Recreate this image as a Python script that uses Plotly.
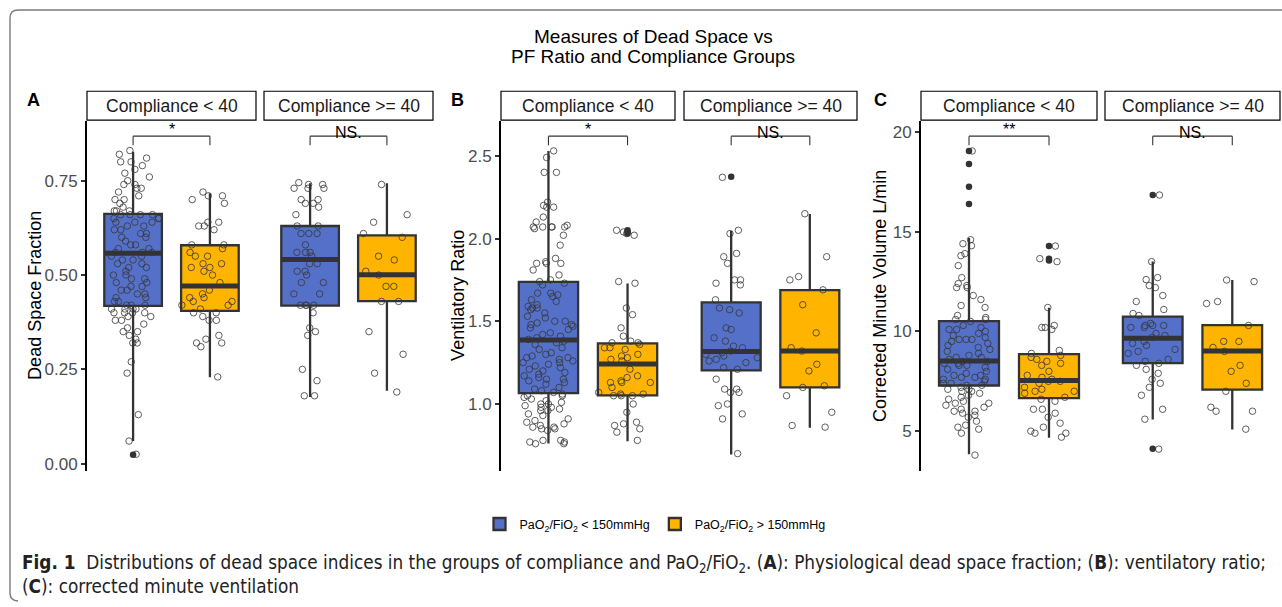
import plotly.graph_objects as go

W, H = 1282, 607

# ---------------- data ----------------
panel_letters = ["A", "B", "C"]
facet_labels = ["Compliance < 40", "Compliance >= 40"]
group_names = ["PaO<sub>2</sub>/FiO<sub>2</sub> < 150mmHg", "PaO<sub>2</sub>/FiO<sub>2</sub> > 150mmHg"]
y_titles = ["Dead Space Fraction", "Ventilatory Ratio", "Corrected Minute Volume L/min"]
y_tickvals = [[0.0, 0.25, 0.5, 0.75], [1.0, 1.5, 2.0, 2.5], [5, 10, 15, 20]]
y_ticktext = [["0.00", "0.25", "0.50", "0.75"], ["1.0", "1.5", "2.0", "2.5"], ["5", "10", "15", "20"]]
sig_labels = [["*", "NS."], ["*", "NS."], ["**", "NS."]]
title_lines = ["Measures of Dead Space vs", "PF Ratio and Compliance Groups"]

# box stats: (lower whisker, q1, median, q3, upper whisker)
dsf_box = [[(0.060, 0.418, 0.558, 0.662, 0.827), (0.229, 0.405, 0.471, 0.579, 0.717)],
           [(0.177, 0.419, 0.541, 0.630, 0.743), (0.193, 0.431, 0.501, 0.605, 0.743)]]
vr_box = [[(0.761, 1.066, 1.387, 1.738, 2.530), (0.775, 1.052, 1.241, 1.367, 1.728)],
          [(0.695, 1.203, 1.317, 1.614, 2.045), (0.856, 1.100, 1.321, 1.688, 2.149)]]
cmv_box = [[(3.84, 7.29, 8.52, 10.52, 14.68), (4.67, 6.66, 7.54, 8.86, 11.19)],
           [(5.58, 8.41, 9.66, 10.74, 13.51), (5.08, 7.08, 9.02, 10.32, 12.58)]]

# outliers (filled dots)
dsf_out = [[[0.024], []], [[], []]]
vr_out = [[[], [2.05, 2.04, 2.03]], [[2.374], []]]
cmv_out = [[[19.05, 18.39, 17.26, 16.39], [14.28, 13.65, 13.56]], [[16.84, 4.12], []]]

# individual observations (jittered open circles)
dsf_c1_low = [0.83, 0.82, 0.81, 0.80, 0.80, 0.79, 0.78, 0.77, 0.76, 0.75, 0.74, 0.74, 0.73, 0.73, 0.72,
              0.71, 0.70, 0.70, 0.69, 0.68, 0.67, 0.67, 0.67, 0.66, 0.66, 0.66, 0.66, 0.65, 0.65, 0.65,
              0.64, 0.64, 0.64, 0.63, 0.63, 0.62, 0.62, 0.61, 0.61, 0.60, 0.60, 0.59, 0.58, 0.58, 0.57,
              0.57, 0.56, 0.56, 0.56, 0.55, 0.55, 0.54, 0.54, 0.53, 0.53, 0.52, 0.52, 0.51, 0.50, 0.50,
              0.49, 0.49, 0.48, 0.48, 0.47, 0.47, 0.46, 0.46, 0.45, 0.45, 0.44, 0.44, 0.43, 0.43, 0.42,
              0.42, 0.42, 0.41, 0.41, 0.41, 0.41, 0.40, 0.40, 0.40, 0.40, 0.39, 0.39, 0.38, 0.38, 0.37,
              0.36, 0.35, 0.35, 0.34, 0.33, 0.32, 0.32, 0.27, 0.24, 0.13, 0.06, 0.025]
dsf_c1_high = [0.72, 0.71, 0.71, 0.70, 0.69, 0.64, 0.64, 0.63, 0.63, 0.62, 0.58, 0.58, 0.57, 0.56, 0.55,
               0.55, 0.53, 0.53, 0.52, 0.52, 0.51, 0.50, 0.48, 0.46, 0.45, 0.44, 0.44, 0.43, 0.43, 0.42,
               0.42, 0.41, 0.40, 0.40, 0.39, 0.38, 0.38, 0.34, 0.33, 0.32, 0.32, 0.31, 0.23]
dsf_c2_low = [0.745, 0.74, 0.74, 0.73, 0.73, 0.73, 0.70, 0.70, 0.69, 0.69, 0.68, 0.66, 0.63, 0.63, 0.61,
              0.61, 0.61, 0.58, 0.56, 0.56, 0.56, 0.55, 0.53, 0.53, 0.51, 0.51, 0.50, 0.48, 0.48, 0.45,
              0.45, 0.42, 0.42, 0.42, 0.42, 0.40, 0.36, 0.35, 0.34, 0.25, 0.22, 0.18, 0.18]
dsf_c2_high = [0.74, 0.66, 0.64, 0.61, 0.60, 0.55, 0.54, 0.51, 0.50, 0.47, 0.47, 0.43, 0.43, 0.35, 0.29,
               0.24, 0.19]

vr_c1_low = [2.53, 2.49, 2.40, 2.40, 2.22, 2.20, 2.19, 2.19, 2.13, 2.10, 2.08, 2.07, 2.07, 2.07, 2.07,
             2.07, 2.06, 2.02, 1.96, 1.88, 1.86, 1.85, 1.85, 1.85, 1.81, 1.78, 1.75, 1.74, 1.73, 1.72,
             1.67, 1.67, 1.66, 1.65, 1.63, 1.62, 1.60, 1.59, 1.58, 1.58, 1.57, 1.55, 1.53, 1.52, 1.50,
             1.50, 1.49, 1.48, 1.48, 1.47, 1.46, 1.45, 1.43, 1.42, 1.41, 1.40, 1.39, 1.38, 1.37, 1.36,
             1.34, 1.33, 1.31, 1.30, 1.29, 1.28, 1.28, 1.27, 1.26, 1.25, 1.25, 1.24, 1.23, 1.22, 1.21,
             1.20, 1.19, 1.18, 1.17, 1.16, 1.15, 1.15, 1.14, 1.13, 1.12, 1.10, 1.09, 1.08, 1.07, 1.06,
             1.05, 1.05, 1.04, 1.03, 1.02, 1.01, 1.00, 1.00, 0.99, 0.98, 0.98, 0.97, 0.96, 0.96, 0.94,
             0.93, 0.91, 0.90, 0.89, 0.88, 0.87, 0.86, 0.86, 0.85, 0.85, 0.84, 0.78, 0.78, 0.77, 0.77,
             0.76, 0.76]
vr_c1_high = [2.05, 2.04, 2.03, 2.02, 1.74, 1.73, 1.58, 1.54, 1.46, 1.41, 1.38, 1.37, 1.37, 1.36, 1.34,
              1.34, 1.33, 1.30, 1.29, 1.28, 1.27, 1.26, 1.21, 1.17, 1.16, 1.14, 1.13, 1.13, 1.13, 1.10,
              1.07, 1.06, 1.06, 1.05, 1.05, 1.05, 1.00, 0.95, 0.89, 0.88, 0.87, 0.85, 0.83, 0.78]
vr_c2_low = [2.37, 2.05, 2.03, 1.91, 1.89, 1.85, 1.75, 1.73, 1.72, 1.75, 1.63, 1.58, 1.57, 1.55, 1.46,
             1.45, 1.40, 1.38, 1.35, 1.34, 1.32, 1.31, 1.30, 1.29, 1.28, 1.27, 1.26, 1.25, 1.22, 1.21,
             1.15, 1.09, 1.09, 1.07, 1.07, 1.00, 0.99, 0.94, 0.91, 0.70]
vr_c2_high = [2.15, 1.89, 1.77, 1.75, 1.69, 1.60, 1.43, 1.34, 1.32, 1.24, 1.20, 1.11, 1.10, 1.05, 0.95,
              0.87, 0.86]

cmv_c1_low = [19.05, 14.6, 14.4, 14.3, 13.9, 13.8, 13.3, 12.7, 12.4, 12.3, 12.2, 12.2, 11.8, 11.6, 11.3,
              11.2, 10.8, 10.7, 10.6, 10.6, 10.5, 10.3, 10.2, 10.1, 10.1, 10.0, 9.9, 9.8, 9.7, 9.6,
              9.6, 9.6, 9.5, 9.4, 9.3, 9.2, 9.1, 9.0, 8.9, 8.8, 8.7, 8.7, 8.6, 8.5, 8.5,
              8.4, 8.4, 8.3, 8.3, 8.2, 8.1, 8.0, 7.9, 7.8, 7.8, 7.7, 7.7, 7.6, 7.6, 7.5,
              7.4, 7.4, 7.3, 7.3, 7.2, 7.1, 7.1, 7.0, 7.0, 6.9, 6.8, 6.7, 6.6, 6.5, 6.4,
              6.4, 6.3, 6.2, 6.1, 6.0, 6.0, 5.9, 5.8, 5.7, 5.5, 5.3, 5.2, 5.1, 4.9, 3.8]
cmv_c1_high = [14.28, 13.65, 13.5, 11.2, 10.3, 10.2, 10.2, 10.1, 9.05, 8.9, 8.8, 8.7, 8.6, 8.5, 8.4,
               8.3, 8.0, 7.8, 7.7, 7.6, 7.5, 7.5, 7.4, 7.2, 7.1, 7.0, 7.0, 6.9, 6.7, 6.6,
               6.5, 6.1, 6.1, 5.9, 5.7, 5.4, 5.2, 5.0, 4.9, 4.9, 4.7]
cmv_c2_low = [16.84, 13.5, 12.7, 12.6, 12.3, 12.2, 11.8, 11.5, 11.1, 10.9, 10.8, 10.4, 10.3, 10.3, 10.3,
              10.2, 10.2, 9.9, 9.8, 9.7, 9.5, 9.4, 9.3, 9.1, 9.0, 8.9, 8.6, 8.5, 8.4, 8.3,
              8.1, 7.9, 7.6, 7.4, 7.2, 6.8, 6.1, 5.6, 4.1]
cmv_c2_high = [12.58, 12.5, 11.5, 11.4, 10.3, 9.5, 9.5, 9.2, 9.0, 8.3, 8.0, 7.4, 7.0, 6.2, 6.0,
               6.0, 5.1]

box_stats = [dsf_box, vr_box, cmv_box]
outliers = [dsf_out, vr_out, cmv_out]
points = [[[dsf_c1_low, dsf_c1_high], [dsf_c2_low, dsf_c2_high]],
          [[vr_c1_low, vr_c1_high], [vr_c2_low, vr_c2_high]],
          [[cmv_c1_low, cmv_c1_high], [cmv_c2_low, cmv_c2_high]]]

# ---------------- style / layout ----------------
FONT = "Liberation Sans, Arial, Helvetica, sans-serif"
CAP_FONT = "Liberation Sans Narrow, DejaVu Sans Condensed, Arial Narrow, Liberation Sans, sans-serif"
fills = ["#5470C8", "#FFB400"]
DARK = "#333333"
BOX_W = 0.75

def px(x):
    return x / W

def py(y):
    return 1 - y / H

panel_top, panel_bot = 121.7, 473.0
y_dom = [py(panel_bot), py(panel_top)]
facet_px = [[(87, 256), (264, 433)], [(501, 675), (684, 857)], [(921, 1097), (1105, 1280)]]
y_ranges = [[-0.0185, 0.908], [0.597, 2.710], [3.02, 20.547]]
letter_x = [33, 457, 880]
ytitle_x = [35, 458, 880]

fig = go.Figure()
layout = {}
shapes = []
annotations = []

for p in range(3):
    for f in range(2):
        k = p * 2 + f + 1
        xa = "x" if k == 1 else f"x{k}"
        ya = "y" if k == 1 else f"y{k}"
        xname = "xaxis" if k == 1 else f"xaxis{k}"
        yname = "yaxis" if k == 1 else f"yaxis{k}"
        x0p, x1p = facet_px[p][f]
        layout[xname] = dict(domain=[px(x0p), px(x1p)], range=[0.4, 2.6], visible=False,
                             anchor=ya, fixedrange=True)
        ydict = dict(domain=y_dom, range=y_ranges[p], anchor=xa, showgrid=False, zeroline=False,
                     fixedrange=True)
        if f == 0:
            ydict.update(showline=True, linecolor="black", linewidth=2, ticks="outside", ticklen=4,
                         tickwidth=1.5, tickcolor=DARK, tickvals=y_tickvals[p], ticktext=y_ticktext[p],
                         tickfont=dict(family=FONT, size=17, color="#4D4D4D"))
        else:
            ydict.update(showline=False, showticklabels=False, ticks="")
        layout[yname] = ydict

        for g in range(2):
            lo, q1, med, q3, hi = box_stats[p][f][g]
            pos = g + 1
            fig.add_trace(go.Box(
                x=[pos], q1=[q1], median=[med], q3=[q3], lowerfence=[lo], upperfence=[hi],
                width=BOX_W, whiskerwidth=0, boxpoints=False, fillcolor=fills[g],
                line=dict(color=DARK, width=2.3), name=group_names[g], legendgroup=f"g{g}",
                showlegend=(p == 0 and f == 0), xaxis=xa, yaxis=ya, hoverinfo="skip"))
            # thick median bar
            fig.add_trace(go.Box(
                x=[pos], q1=[med], median=[med], q3=[med], lowerfence=[med], upperfence=[med],
                width=BOX_W, whiskerwidth=0, boxpoints=False, fillcolor=DARK,
                line=dict(color=DARK, width=5), showlegend=False, xaxis=xa, yaxis=ya,
                hoverinfo="skip"))
        for g in range(2):
            pos = g + 1
            vals = points[p][f][g]
            fig.add_trace(go.Box(
                x=[pos] * len(vals), y=vals, width=BOX_W, boxpoints="all", jitter=1.0, pointpos=0,
                fillcolor="rgba(0,0,0,0)", line=dict(color="rgba(0,0,0,0)", width=0),
                marker=dict(symbol="circle-open", size=6.5, color="rgba(55,55,55,0.8)",
                            line=dict(width=1)),
                showlegend=False, xaxis=xa, yaxis=ya, hoveron="points"))
            if outliers[p][f][g]:
                fig.add_trace(go.Scatter(
                    x=[pos] * len(outliers[p][f][g]), y=outliers[p][f][g], mode="markers",
                    marker=dict(color=DARK, size=6.5), showlegend=False, xaxis=xa, yaxis=ya))

        # strip
        shapes.append(dict(type="rect", xref=f"{xa} domain", yref="paper", x0=0, x1=1,
                           y0=py(120.7), y1=py(91.7), line=dict(color="black", width=1.2),
                           fillcolor="white", layer="above"))
        annotations.append(dict(text=facet_labels[f], xref=f"{xa} domain", yref="paper", x=0.5,
                                y=py(106.5), showarrow=False, xanchor="center", yanchor="middle",
                                font=dict(family=FONT, size=17.5, color="#1A1A1A")))
        # significance bracket
        yb0, yb1 = 0.931, 0.957
        for (xs0, ys0, xs1, ys1) in [(1, yb0, 1, yb1), (1, yb1, 2, yb1), (2, yb1, 2, yb0)]:
            shapes.append(dict(type="line", xref=xa, yref=f"{ya} domain", x0=xs0, y0=ys0, x1=xs1,
                               y1=ys1, line=dict(color=DARK, width=1.1)))
        lab = sig_labels[p][f]
        annotations.append(dict(text=lab, xref=xa, yref=f"{ya} domain", x=1.5,
                                y=0.976 if "*" in lab else 0.966, showarrow=False,
                                xanchor="center", yanchor="middle",
                                font=dict(family=FONT, size=16, color="black")))

    annotations.append(dict(text=f"<b>{panel_letters[p]}</b>", xref="paper", yref="paper",
                            x=px(letter_x[p]), y=py(100), showarrow=False, xanchor="center",
                            yanchor="middle", font=dict(family=FONT, size=18, color="black")))
    annotations.append(dict(text=y_titles[p], xref="paper", yref="paper", x=px(ytitle_x[p]),
                            y=py((panel_top + panel_bot) / 2), showarrow=False, textangle=-90,
                            xanchor="center", yanchor="middle",
                            font=dict(family=FONT, size=18, color="black")))

# title (two lines)
for i, line in enumerate(title_lines):
    annotations.append(dict(text=line, xref="paper", yref="paper", x=px(653), y=py(37 + 20 * i),
                            showarrow=False, xanchor="center", yanchor="middle",
                            font=dict(family=FONT, size=19, color="black")))
# caption
annotations.append(dict(
    text="<b>Fig. 1</b>  Distributions of dead space indices in the groups of compliance and "
         "PaO<sub>2</sub>/FiO<sub>2</sub>. (<b>A</b>): Physiological dead space fraction; "
         "(<b>B</b>): ventilatory ratio;",
    xref="paper", yref="paper", x=px(20), y=py(567), showarrow=False, xanchor="left",
    yanchor="middle", font=dict(family=CAP_FONT, size=18.8, color="#222222")))
annotations.append(dict(
    text="(<b>C</b>): corrected minute ventilation",
    xref="paper", yref="paper", x=px(20), y=py(589), showarrow=False, xanchor="left",
    yanchor="middle", font=dict(family=CAP_FONT, size=18.8, color="#222222")))

# outer rounded border: separate open segments (no right side)
r = 8
bx0, by0, bx1, by1 = 10, 10, 1282, 604
shapes.append(dict(type="line", xref="paper", yref="paper", x0=px(bx0 + r), x1=px(bx1),
                   y0=py(by0), y1=py(by0), line=dict(color="#7A7A7A", width=1.4)))
shapes.append(dict(type="line", xref="paper", yref="paper", x0=px(bx0), x1=px(bx0),
                   y0=py(by0 + r), y1=py(by1 - r), line=dict(color="#7A7A7A", width=1.4)))
shapes.append(dict(type="path", xref="paper", yref="paper",
                   path=f"M {px(bx0)},{py(by0 + r)} Q {px(bx0)},{py(by0)} {px(bx0 + r)},{py(by0)}",
                   line=dict(color="#7A7A7A", width=1.4)))
shapes.append(dict(type="path", xref="paper", yref="paper",
                   path=f"M {px(bx0)},{py(by1 - r)} Q {px(bx0)},{py(by1)} {px(bx0 + r)},{py(by1)}",
                   line=dict(color="#7A7A7A", width=1.4)))

fig.update_layout(
    width=W, height=H, margin=dict(l=0, r=0, t=0, b=0), autosize=False,
    paper_bgcolor="white", plot_bgcolor="white", boxmode="overlay",
    font=dict(family=FONT, color="black"),
    legend=dict(orientation="h", x=px(655), y=py(527), xanchor="center", yanchor="middle",
                font=dict(family=FONT, size=12.5, color="black"), itemwidth=30,
                bgcolor="rgba(0,0,0,0)"),
    shapes=shapes, annotations=annotations, **layout)

fig.write_html("out.html", config={"displayModeBar": False},
               post_script="document.body.style.margin='0';document.body.style.overflow='hidden';")
